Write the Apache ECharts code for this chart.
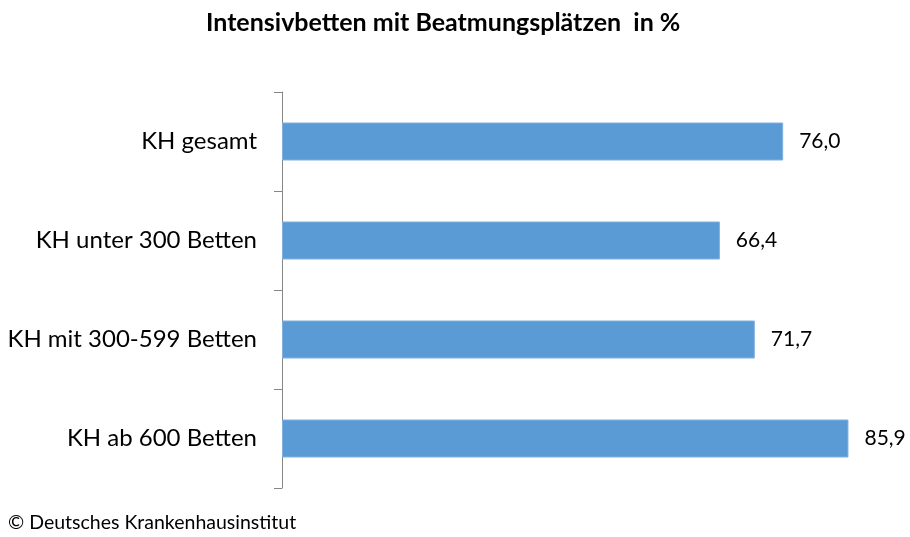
<!DOCTYPE html>
<html>
<head>
<meta charset="utf-8">
<script src="https://cdn.jsdelivr.net/npm/echarts@6/dist/echarts.min.js"></script>
<style>
  html, body { margin: 0; padding: 0; background: #fff; }
  #chart { width: 910px; height: 537px; }
</style>
</head>
<body>
<div id="chart"></div>
<script>
const categories = [
  "KH gesamt",
  "KH unter 300 Betten",
  "KH mit 300-599 Betten",
  "KH ab 600 Betten",
];
const values = [76.0, 66.4, 71.7, 85.9];

const chart = echarts.init(document.getElementById("chart"));

const option = {
  animation: false,
  textStyle: { fontFamily: "Lato" },
  title: [
    {
      text: "Intensivbetten mit Beatmungsplätzen  in %",
      left: 201,
      top: 5,
      textStyle: { fontFamily: "Lato", fontWeight: "bold", fontSize: 25, color: "#000" },
    },
    {
      text: "© Deutsches Krankenhausinstitut",
      left: 3,
      top: 508,
      textStyle: { fontFamily: "Lato", fontWeight: "normal", fontSize: 19.5, color: "#000" },
    },
  ],
  grid: { left: 282, right: 34.5, top: 92, bottom: 49 },
  xAxis: {
    type: "value",
    min: 0,
    max: 90,
    show: false,
  },
  yAxis: {
    type: "category",
    inverse: true,
    data: categories,
    axisLine: { lineStyle: { color: "#868686", width: 1 } },
    axisTick: { show: true, length: 8, lineStyle: { color: "#868686" } },
    axisLabel: { fontSize: 24, color: "#000", margin: 25, fontFamily: "Lato" },
    splitLine: { show: false },
  },
  series: [
    {
      type: "bar",
      data: values,
      barWidth: 38,
      itemStyle: { color: "#5B9BD5", borderColor: "#7FB0DE", borderWidth: 1 },
      label: {
        show: true,
        position: "right",
        distance: 16,
        fontSize: 21,
        color: "#000",
        fontFamily: "Lato",
        formatter: (p) => p.value.toFixed(1).replace(".", ","),
      },
    },
  ],
};

chart.setOption(option);
</script>
</body>
</html>
